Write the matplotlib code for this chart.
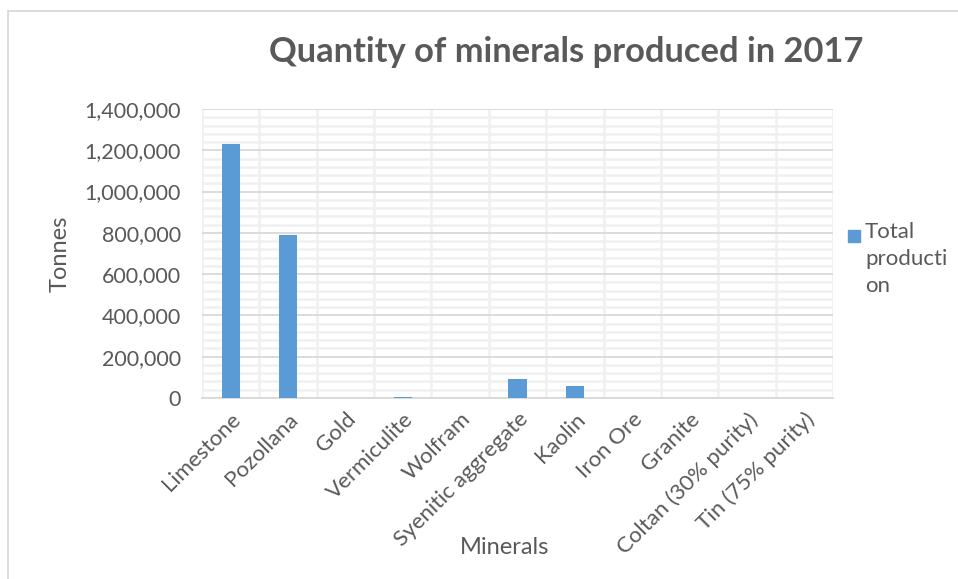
import matplotlib
matplotlib.use("Agg")
import matplotlib.pyplot as plt
from matplotlib.patches import Rectangle
from matplotlib.lines import Line2D
import numpy as np

categories = ["Limestone", "Pozollana", "Gold", "Vermiculite", "Wolfram",
              "Syenitic aggregate", "Kaolin", "Iron Ore", "Granite",
              "Coltan (30% purity)", "Tin (75% purity)"]
production = [1230000, 792000, 100, 3000, 50, 92000, 56000, 100, 100, 10, 10]
series_label = "Total\nproducti\non"
yticks = [0, 200000, 400000, 600000, 800000, 1000000, 1200000, 1400000]

plt.rcParams['font.family'] = ['Lato', 'DejaVu Sans']
gray = '#595959'

fig = plt.figure(figsize=(9.58, 5.79), dpi=100)
ax = fig.add_axes([202/958, 1-398/579, (833-202)/958, (398-109)/579])

x = np.arange(len(categories))
ax.bar(x, production, width=0.32, color='#5b9bd5', zorder=3)

ax.set_xlim(-0.5, len(categories)-0.5)
ax.set_ylim(0, 1400000)
ax.set_yticks(yticks)
ax.set_yticklabels([f"{v:,}" for v in yticks])
ax.set_yticks(np.arange(0, 1400001, 40000), minor=True)
ax.set_xticks(x)
ax.set_xticks(np.arange(-0.5, len(categories), 0.5), minor=True)
ax.set_xticklabels(categories, rotation=45, ha='right', rotation_mode='anchor')

ax.grid(True, which='minor', axis='both', color='#f0f0f0', linewidth=1.8, zorder=0)
ax.grid(True, which='major', axis='y', color='#d9d9d9', linewidth=1.3, zorder=1)
ax.set_axisbelow(True)

for s in ['top', 'right', 'left']:
    ax.spines[s].set_visible(False)
ax.spines['bottom'].set_color('#d9d9d9')
ax.spines['bottom'].set_linewidth(1.3)
ax.tick_params(axis='both', which='both', length=0, colors=gray, labelsize=15)
ax.tick_params(axis='x', labelsize=16, pad=8)
ax.tick_params(axis='y', labelsize=15.5, pad=15)

ax.set_ylabel("Tonnes", fontsize=17, color=gray)
ax.yaxis.set_label_coords(-(202-60)/(833-202), 0.5)
ax.set_xlabel("Minerals", fontsize=17, color=gray)
ax.xaxis.set_label_coords((505-202)/(833-202), -(547-398)/(398-109))
ax.xaxis.label.set_va('center')
ax.yaxis.label.set_va('center')

fig.text(566/958, 1-52/579, "Quantity of minerals produced in 2017",
         ha='center', va='center', fontsize=24.8, fontweight='bold', color=gray)

# legend
fig.patches.append(Rectangle((848/958, 1-242/579), 12/958, 12/579,
                             transform=fig.transFigure, color='#5b9bd5', figure=fig))
fig.text(865/958, 1-222/579, series_label, ha='left', va='top',
         fontsize=16, color=gray, linespacing=1.45)

# chart border (top and left)
fig.add_artist(Line2D([8/958, 8/958], [0, 1-11/579], transform=fig.transFigure,
                      color='#d9d9d9', linewidth=1.3))
fig.add_artist(Line2D([8/958, 1], [1-11/579, 1-11/579], transform=fig.transFigure,
                      color='#d9d9d9', linewidth=1.3))

fig.savefig("out.png", dpi=100)
